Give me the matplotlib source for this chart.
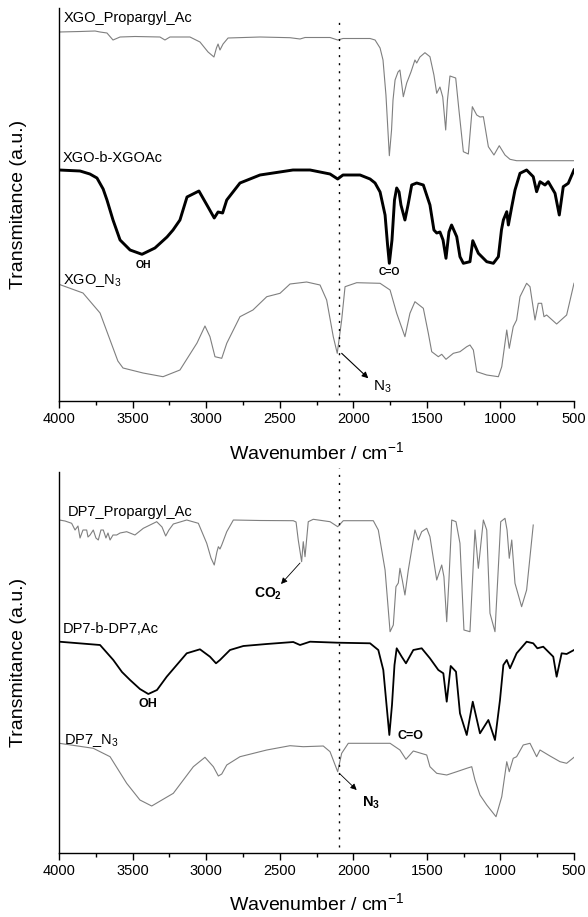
import matplotlib
matplotlib.use("Agg")
import matplotlib.pyplot as plt
from matplotlib.ticker import MultipleLocator

plt.rcParams['font.family'] = ['Liberation Sans', 'DejaVu Sans']
plt.rcParams['mathtext.fontset'] = 'custom'
plt.rcParams['mathtext.rm'] = 'Liberation Sans'
plt.rcParams['mathtext.it'] = 'Liberation Sans:italic'
plt.rcParams['mathtext.bf'] = 'Liberation Sans:bold'

# ---------------- Top panel data (wavenumber, transmittance a.u.) ----------------
xgo_prop_wn = [4000, 3857, 3755, 3721, 3674, 3633, 3585, 3483, 3314, 3280, 3246, 3110, 3042, 2987,
               2947, 2930, 2919, 2906, 2885, 2851, 2634, 2430, 2362, 2328, 2158, 2106, 2070, 1886,
               1852, 1818, 1798, 1778, 1755, 1740, 1730, 1716, 1696, 1683, 1660, 1637, 1608, 1581,
               1569, 1547, 1513, 1479, 1452, 1433, 1411, 1392, 1372, 1360, 1343, 1304, 1282, 1252,
               1218, 1191, 1161, 1139, 1116, 1082, 1044, 1008, 969, 935, 890, 500]
xgo_prop_t = [369, 369.5, 370, 369, 368, 361, 364, 364.5, 364, 361, 364, 364, 359, 349,
              344, 353, 357, 351, 357, 363, 364, 363.3, 362, 363.5, 363.5, 361, 362.5, 362.5,
              361, 353, 341, 306, 245.3, 271, 301, 321, 329, 331, 304.3, 318, 329, 341,
              338, 344, 348.3, 344.3, 326, 307.7, 314, 304, 271, 301, 325, 323, 291, 249.3,
              247, 294.3, 286, 284, 284.3, 254.3, 246, 255.3, 246, 241.7, 240.3, 240.3]

xgo_b_wn = [4000, 3857, 3790, 3742, 3700, 3674, 3633, 3585, 3517, 3436, 3348, 3266, 3225, 3178, 3130, 3049,
            2987, 2945, 2919, 2888, 2860, 2770, 2634, 2410, 2294, 2158, 2106, 2070, 1954, 1886,
            1852, 1818, 1784, 1767, 1755, 1737, 1720, 1705, 1689, 1676, 1649, 1628, 1603, 1569,
            1524, 1479, 1452, 1433, 1411, 1390, 1370, 1350, 1332, 1297, 1275, 1252, 1207, 1188,
            1150, 1093, 1048, 1014, 993, 980, 957, 946, 923, 901, 867, 822, 777, 754, 731, 697,
            675, 629, 600, 573, 539, 500]
xgo_b_t = [231, 230, 227, 223, 212, 201, 181, 161, 151, 146.7, 153, 164, 171, 181, 204, 210,
           194, 183, 189, 188, 201, 218, 226, 231, 231, 227, 222, 226, 226, 222,
           218, 209, 186, 156, 137.7, 161, 201, 213, 209, 196, 181, 196, 216, 218,
           216, 196, 171, 168, 169, 161, 142.7, 169, 176, 164.3, 144.3, 137.7, 139.3, 160.3,
           147.7, 139.3, 137.7, 144.3, 171, 181, 189.3, 176, 194.3, 211, 227.7, 231, 224.3, 209.3, 219.3, 216,
           219.3, 207.7, 186, 214.3, 217.7, 231]

xgo_n3_wn = [4000, 3837, 3721, 3653, 3600, 3565, 3429, 3293, 3178, 3062, 3008, 2974, 2940, 2894, 2860,
             2770, 2682, 2588, 2498, 2430, 2317, 2226, 2181, 2136, 2109, 2079, 2056, 1977, 1818,
             1750, 1705, 1649, 1615, 1581, 1524, 1490, 1467, 1422, 1399, 1370, 1320, 1275, 1229,
             1207, 1184, 1161, 1093, 1014, 991, 957, 940, 913, 890, 867, 822, 799, 765, 743, 720,
             704, 686, 618, 550, 500]
xgo_n3_t = [116.7, 108, 88, 61, 40, 33, 28, 24.3, 31, 58, 75, 64.3, 44.3, 42.7, 57.7,
            84.3, 91, 104.3, 107.7, 117, 119, 116, 101, 64.3, 47.7, 81, 114.3, 118.3, 117.7,
            111, 87.7, 64.3, 87.7, 99.3, 92.7, 67.7, 49.3, 44.3, 46.7, 41.7, 47.7, 49.3, 54.3,
            56, 51, 29.3, 26, 24.3, 34.3, 71, 52.7, 74.3, 81, 104.3, 117.7, 114.3, 81, 97.7, 97.7,
            84.3, 86, 77, 86, 117.7]

# ---------------- Bottom panel data ----------------
dp7_prop_wn = [3998, 3959, 3914, 3891, 3871, 3857, 3837, 3812, 3803, 3789, 3767, 3749, 3733, 3715,
               3699, 3681, 3667, 3653, 3633, 3608, 3585, 3540, 3484, 3427, 3336, 3300, 3275, 3253,
               3223, 3132, 3053, 2996, 2967, 2945, 2927, 2917, 2906, 2894, 2860, 2815, 2634, 2408,
               2389, 2374, 2351, 2340, 2328, 2306, 2272, 2158, 2106, 2068, 1864, 1830, 1784, 1750,
               1728, 1710, 1694, 1683, 1667, 1649, 1626, 1581, 1558, 1535, 1501, 1479, 1433, 1399,
               1384, 1365, 1350, 1331, 1302, 1275, 1248, 1207, 1173, 1150, 1116, 1093, 1071, 1037,
               998, 969, 955, 940, 923, 901, 856, 822, 777]
dp7_prop_t = [333, 332, 329.7, 323, 327, 315, 323, 323, 316, 318, 323, 315, 313, 323,
              323, 315, 320, 313, 318, 318, 320, 321.3, 318, 324.7, 331.3, 326, 317, 323,
              329, 333, 329.7, 309.7, 295, 288, 301, 306.3, 304, 308, 321.3, 333, 332.5, 332.3,
              331, 313, 291.3, 311.3, 296.3, 331.3, 333.7, 331.3, 326.3, 332.3, 332.3, 323, 283, 221.3,
              228, 266.3, 270, 284.7, 273, 258, 283, 323, 313, 321.3, 324.7, 316.3, 273, 288,
              276.3, 231.3, 273, 333, 331.3, 309.7, 223, 221.3, 323, 284.7, 333, 323, 239.7, 221.3,
              331.3, 334.7, 323, 294.7, 313, 269.7, 246.3, 263, 328]

dp7_b_wn = [3998, 3721, 3631, 3572, 3517, 3450, 3393, 3334, 3268, 3132, 3042, 2974, 2933, 2906, 2838,
            2747, 2588, 2408, 2362, 2294, 2106, 1886, 1830, 1796, 1774, 1755, 1737, 1720, 1705,
            1671, 1642, 1592, 1535, 1479, 1422, 1388, 1365, 1338, 1302, 1275, 1229, 1188, 1139,
            1082, 1037, 1003, 980, 957, 935, 890, 822, 777, 749, 709, 641, 618, 584, 550, 500]
dp7_b_t = [211.3, 208, 193, 181, 173, 164, 159, 163, 176.3, 199.7, 203.7, 196.3, 189.7, 193, 203,
           207, 209, 211, 208, 211.3, 210.3, 209.7, 203, 183, 148, 118, 148, 188, 204.7,
           196.3, 189.7, 203, 204.7, 194.7, 183, 179.7, 151.3, 187, 181.3, 139.7, 118, 151.3, 119.7,
           133, 113, 153, 188, 193, 184.7, 199.7, 211.3, 209.7, 204.7, 206.3, 196.3, 176.3, 199.7, 199, 203]

dp7_n3_wn = [3998, 3767, 3653, 3540, 3450, 3370, 3223, 3087, 3008, 2951, 2917, 2894, 2860, 2770,
             2588, 2430, 2340, 2204, 2158, 2106, 2079, 2034, 1750, 1683, 1642, 1592, 1501, 1479,
             1433, 1365, 1297, 1229, 1195, 1173, 1139, 1093, 1030, 991, 957, 940, 913, 890, 845,
             799, 754, 731, 663, 595, 550, 500]
dp7_n3_t = [109.7, 104.7, 96.3, 69.7, 53, 47, 59.7, 86.3, 95.7, 86.3, 77, 79, 88, 96.3,
            103, 107.3, 106.3, 107, 101.3, 81.3, 99.7, 109.7, 109.7, 103, 93.7, 102, 98, 86.3,
            79.7, 78, 81.3, 84.7, 86.3, 73, 58, 48, 36.3, 56.3, 91.3, 81.3, 94.7, 96.3, 108,
            109.7, 96.3, 103, 97, 91.3, 89.7, 95.7]

x_major = [4000, 3500, 3000, 2500, 2000, 1500, 1000, 500]
azide_wn = 2100

gray = '#7f7f7f'

fig = plt.figure(figsize=(5.88, 9.17), dpi=100)
ax1 = fig.add_axes([59/588, 1-401/917, 515/588, 393/917])
ax2 = fig.add_axes([59/588, 1-853/917, 515/588, 381/917])

ax1.plot(xgo_prop_wn, xgo_prop_t, color=gray, lw=0.8)
ax1.plot(xgo_b_wn, xgo_b_t, color='black', lw=2.1)
ax1.plot(xgo_n3_wn, xgo_n3_t, color=gray, lw=0.8)

ax2.plot(dp7_prop_wn, dp7_prop_t, color=gray, lw=0.8)
ax2.plot(dp7_b_wn, dp7_b_t, color='black', lw=1.3)
ax2.plot(dp7_n3_wn, dp7_n3_t, color=gray, lw=0.8)

for ax, ytop, (ylo, yhi), xpad in [(ax1, 393, (6, 381), 11), (ax2, 381, (6, 385), 10)]:
    ax.set_xlim(4000, 500)
    ax.set_ylim(0, ytop)
    ax.plot([azide_wn, azide_wn], [ylo, yhi], color='black', lw=1.0,
            linestyle=(0, (1.5, 4.3)), clip_on=False)
    ax.spines['top'].set_visible(False)
    ax.spines['right'].set_visible(False)
    ax.spines['left'].set_linewidth(1.0)
    ax.spines['bottom'].set_linewidth(1.0)
    ax.set_yticks([])
    ax.set_xticks(x_major)
    ax.xaxis.set_minor_locator(MultipleLocator(250))
    ax.tick_params(axis='x', which='major', direction='out', length=5, width=1.0,
                   labelsize=10.5, pad=3)
    ax.tick_params(axis='x', which='minor', direction='out', length=3, width=1.0)
    ax.set_xlabel('Wavenumber / cm$^{-1}$', fontsize=14, labelpad=xpad)
    ax.set_ylabel('Transmitance (a.u.)', fontsize=14, labelpad=23)

# Top panel labels
ax1.text(3966, 383, 'XGO_Propargyl_Ac', fontsize=10.5, va='center', ha='left')
ax1.text(3973, 243, 'XGO-b-XGOAc', fontsize=10.5, va='center', ha='left')
ax1.text(3973, 120, 'XGO_N$_3$', fontsize=10.5, va='center', ha='left')
ax1.text(3429, 136, 'OH', fontsize=7.5, fontweight='bold', ha='center', va='center')
ax1.text(1757, 129, 'C=O', fontsize=7.5, fontweight='bold', ha='center', va='center')
ax1.annotate('', xy=(1898, 22.7), xytext=(2079, 47.7),
             arrowprops=dict(arrowstyle='-|>', color='black', lw=0.8, mutation_scale=9,
                             shrinkA=0, shrinkB=0))
ax1.text(1866, 14, 'N$_3$', fontsize=11, ha='left', va='center')

# Bottom panel labels
ax2.text(3939, 341, 'DP7_Propargyl_Ac', fontsize=10.5, va='center', ha='left')
ax2.text(3973, 224, 'DP7-b-DP7,Ac', fontsize=10.5, va='center', ha='left')
ax2.text(3966, 112, 'DP7_N$_3$', fontsize=10.5, va='center', ha='left')
ax2.text(3393, 149, 'OH', fontsize=9, fontweight='bold', ha='center', va='center')
ax2.text(1610, 117, 'C=O', fontsize=9, fontweight='bold', ha='center', va='center')
ax2.annotate('', xy=(2491, 269), xytext=(2362, 290),
             arrowprops=dict(arrowstyle='-|>', color='black', lw=0.6, mutation_scale=9,
                             shrinkA=0, shrinkB=0))
ax2.text(2580, 259, r'CO$_\mathbf{2}$', fontsize=10, fontweight='bold', ha='center', va='center')
ax2.annotate('', xy=(1977, 63), xytext=(2090, 79),
             arrowprops=dict(arrowstyle='-|>', color='black', lw=0.6, mutation_scale=9,
                             shrinkA=0, shrinkB=0))
ax2.text(1941, 50, r'N$_\mathbf{3}$', fontsize=10.5, fontweight='bold', ha='left', va='center')

fig.savefig('out.png', dpi=100)
